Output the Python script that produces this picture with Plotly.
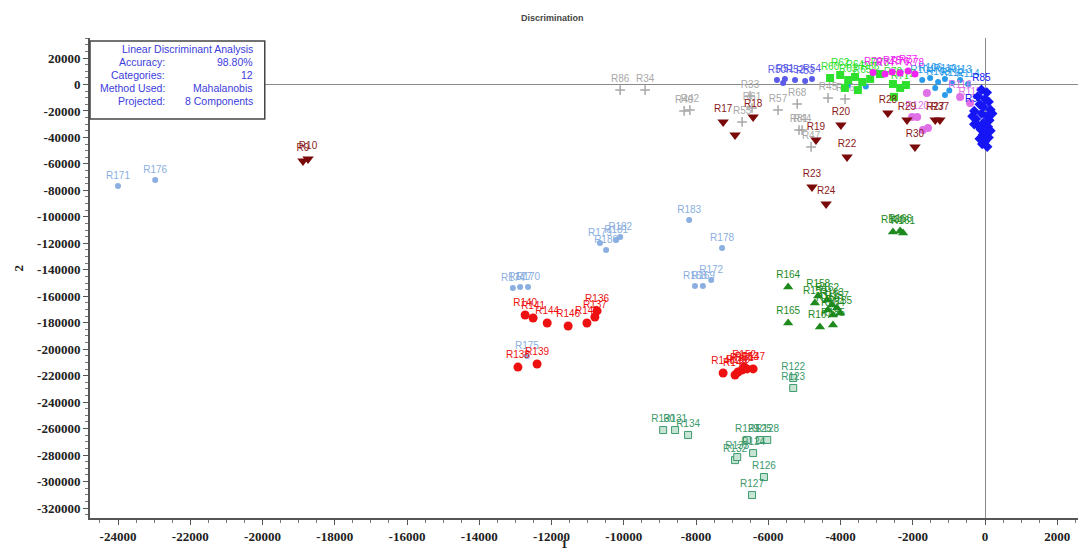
import plotly.graph_objects as go

# ---------------- data ----------------
gray_x = [-10100, -9410, -8330, -8170, -6505, -6450, -6725, -5730, -5200, -5150, -5065, -4816, -4346, -3875]
gray_y = [-4200, -4200, -20000, -19300, -8700, -17800, -28300, -19300, -14700, -34400, -34400, -47200, -10200, -11000]
gray_lab = ["R86", "R34", "R40", "R42", "R33", "R61", "R55", "R57", "R68", "R81", "R44", "R47", "R45", "R46"]

maroon_x = [-18880, -18740, -7250, -6920, -6420, -4680, -3990, -3820, -4790, -4400, -2690, -2160, -1380, -1250, -1940]
maroon_y = [-57800, -56300, -28300, -38200, -24600, -41900, -30600, -54800, -77400, -90300, -21500, -26800, -26800, -26800, -47200]
maroon_lab = ["R9", "R10", "R17", "", "R18", "R19", "R20", "R22", "R23", "R24", "R28", "R29", "R27", "R37", "R30"]

lblue_x = [-24000, -22970, -8190, -7280, -10660, -10490, -10210, -10100, -13070, -12870, -12650, -8030, -7810, -7580, -12680]
lblue_y = [-76700, -72200, -102400, -123500, -119800, -125100, -117500, -115200, -153800, -153000, -153000, -152300, -152300, -147700, -205100]
lblue_lab = ["R171", "R176", "R183", "R178", "R179", "R180", "R181", "R182", "R174", "R177", "R170", "R168", "R169", "R172", "R175"]

red_x = [-12730, -12510, -12120, -11540, -11020, -10800, -10740, -12930, -12400, -7250, -6920, -6840, -6730, -6590, -6420, -6670]
red_y = [-174200, -176400, -180200, -182500, -180200, -175700, -171100, -213500, -211200, -218000, -219500, -217200, -215700, -214900, -214900, -213400]
red_lab = ["R140", "R141", "R144", "R146", "R145", "R137", "R136", "R138", "R139", "R148", "R149", "R150", "R151", "R153", "R147", "R152"]

green_x = [-2550, -2350, -2270, -5450, -5450, -4620, -4710, -4370, -4240, -4100, -4350, -4210, -4010, -4570, -4210]
green_y = [-111500, -110700, -112200, -153000, -180200, -159800, -165100, -162800, -166600, -168900, -170400, -174200, -172600, -183200, -181700]
green_lab = ["R160", "R166", "R161", "R164", "R165", "R158", "R159", "R162", "R163", "R157", "R156", "R154", "R155", "R167", "R185"]

teal_x = [-5310, -5310, -8910, -8580, -8220, -6230, -6030, -6590, -6420, -6920, -6860, -6120, -6450]
teal_y = [-221800, -229300, -261100, -261100, -264800, -268600, -268600, -268600, -278500, -283800, -281500, -296600, -310200]
teal_lab = ["R122", "R123", "R130", "R131", "R134", "R125", "R128", "R129", "R124", "R132", "R133", "R126", "R127"]

blue_x = [-100, 50, -200, 0, 100, -150, -50, 150, -300, -100, 50, -250, 120, -50, -200, 80, -120, 30, -60, 100, -150, 0, -80, 60, -350, 200, -300, 150]
blue_y = [-4000, -6000, -9000, -11000, -13000, -15000, -17000, -19000, -20000, -22000, -24000, -26000, -27000, -29000, -31000, -32000, -34000, -36000, -38000, -40000, -41000, -43000, -45000, -47000, -24000, -22000, -30000, -35000]
blue_lab = ["R85", "", "", "", "", "", "", "", "R93", "", "", "", "", "", "", "", "", "", "", "", "", "", "", "", "", "", "", ""]

violet_x = [-5760, -5540, -5260, -4980, -4790, -5590]
violet_y = [3400, 4200, 3400, 2600, 4200, 1100]
violet_lab = ["R50", "R51", "R52", "R53", "R54", ""]

lime_x = [-4290, -4010, -3790, -3600, -3400, -3180, -3880, -3520, -2550, -2350, -2190, -2520, -2910]
lime_y = [4900, 7200, 3400, 5700, 1900, 4200, -2600, -4200, 400, -2600, -400, -9400, 7900]
lime_lab = ["R60", "R62", "R63", "R64", "R65", "R66", "", "", "R70", "R71", "R72", "", "R73"]

magenta_x = [-2770, -2570, -2350, -2130, -1940, -3100]
magenta_y = [7900, 9400, 8700, 10200, 7900, 9000]
magenta_lab = ["R74", "R75", "R76", "R77", "R78", "R79"]

dblue_x = [-1740, -1520, -1300, -1110, -910, -690, -470, -1380, -1110, -990, -3800, -3300]
dblue_y = [3400, 4900, 1900, 4200, 1100, 3400, 400, -2600, -8000, -4500, -500, -1500]
dblue_lab = ["R104", "R106", "R108", "R110", "R112", "R113", "R114", "", "", "", "", ""]

orchid_x = [-1610, -690, -1880, -1720, -2020, -1580, -415]
orchid_y = [-6400, -9400, -24600, -34400, -24600, -32900, -14000]
orchid_lab = ["", "R116", "R120", "", "", "", "R115"]

xtick_vals = [-24000, -22000, -20000, -18000, -16000, -14000, -12000, -10000, -8000, -6000, -4000, -2000, 0, 2000]
xtick_text = ["-24000", "-22000", "-20000", "-18000", "-16000", "-14000", "-12000", "-10000", "-8000", "-6000", "-4000", "-2000", "0", "2000"]
ytick_vals = [20000, 0, -20000, -40000, -60000, -80000, -100000, -120000, -140000, -160000, -180000, -200000,
              -220000, -240000, -260000, -280000, -300000, -320000]
ytick_text = ["20000", "0", "-20000", "-40000", "-60000", "-80000", "-100000", "-120000", "-140000", "-160000",
              "-180000", "-200000", "-220000", "-240000", "-260000", "-280000", "-300000", "-320000"]

info_keys = ["Accuracy:", "Categories:", "Method Used:", "Projected:"]
info_vals = ["98.80%", "12", "Mahalanobis", "8 Components"]

# ---------------- figure ----------------
fig = go.Figure()

def add_group(xs, ys, labels, color, symbol, size, tcolor=None, line=None, fill=None):
    fig.add_trace(go.Scatter(
        x=xs, y=ys, text=labels, mode="markers+text", textposition="top center",
        textfont=dict(family="Liberation Sans", size=10, color=tcolor or color),
        marker=dict(symbol=symbol, size=size, color=fill or color,
                    line=line if line else dict(width=0)),
        showlegend=False, hoverinfo="x+y+text"))

add_group(gray_x, gray_y, gray_lab, "#A8A8A8", "cross-thin", 7,
          line=dict(color="#A8A8A8", width=1.5))
add_group(dblue_x, dblue_y, dblue_lab, "#2A9BEA", "circle", 6)
add_group(violet_x, violet_y, violet_lab, "#5B5BE8", "circle", 6)
add_group(lime_x, lime_y, lime_lab, "#2EE02E", "square", 8)
add_group(magenta_x, magenta_y, magenta_lab, "#F224F2", "circle", 7)
add_group(orchid_x, orchid_y, orchid_lab, "#E070E8", "circle", 8)
add_group(blue_x, blue_y, blue_lab, "#1515F5", "diamond", 8)
add_group(maroon_x, maroon_y, maroon_lab, "#7A0A0A", "triangle-down", 10, tcolor="#8B1A1A")
add_group(lblue_x, lblue_y, lblue_lab, "#8AAFE0", "circle", 6)
add_group(red_x, red_y, red_lab, "#EE1111", "circle", 9)
add_group(green_x, green_y, green_lab, "#1E8A1E", "triangle-up", 9)
add_group(teal_x, teal_y, teal_lab, "#3C9A6C", "square", 7,
          line=dict(color="#3C9A6C", width=1), fill="#C8E4D4")

tickfont = dict(family="Liberation Serif", size=13, color="#222222", weight="bold")

# the page body adds an 8px margin, so the figure is offset by 8px
fig.update_layout(
    width=1078, height=546,
    margin=dict(l=82, r=3, t=30, b=36),
    paper_bgcolor="white", plot_bgcolor="white",
    xaxis=dict(range=[-24775, 2711], tickvals=xtick_vals, ticktext=xtick_text,
               showgrid=False, zeroline=True, zerolinecolor="#8A8A8A", zerolinewidth=1,
               showline=True, linecolor="#555555", linewidth=2, ticks="outside",
               ticklen=5, tickcolor="#555555", tickfont=tickfont,
               minor=dict(ticks="outside", ticklen=3, dtick=500, tickcolor="#777777")),
    yaxis=dict(range=[-327550, 35135], tickvals=ytick_vals, ticktext=ytick_text,
               showgrid=False, zeroline=True, zerolinecolor="#8A8A8A", zerolinewidth=1,
               showline=True, linecolor="#555555", linewidth=2, ticks="outside",
               ticklen=5, tickcolor="#555555", tickfont=tickfont,
               minor=dict(ticks="outside", ticklen=3, dtick=5000, tickcolor="#777777")),
)

# info box
fig.add_shape(type="rect", xref="paper", yref="paper", x0=0.0, x1=0.176, y0=0.831, y1=0.994,
              fillcolor="white", line=dict(color="#444444", width=1.5), layer="above")
box_font = dict(family="Liberation Sans", size=10.5, color="#3C3CDC")
fig.add_annotation(xref="paper", yref="paper", x=0.166, y=0.977, xanchor="right", yanchor="middle",
                   text="Linear Discriminant Analysis", showarrow=False, font=box_font)
row_y = [0.950, 0.923, 0.896, 0.869]
for k, v, yy in zip(info_keys, info_vals, row_y):
    fig.add_annotation(xref="paper", yref="paper", x=0.0775, y=yy, xanchor="right", yanchor="middle",
                       text=k, showarrow=False, font=box_font)
    fig.add_annotation(xref="paper", yref="paper", x=0.166, y=yy, xanchor="right", yanchor="middle",
                       text=v, showarrow=False, font=box_font)

# title and axis labels
fig.add_annotation(xref="paper", yref="paper", x=0.466, y=1.042, xanchor="center", yanchor="middle",
                   text="Discrimination", showarrow=False,
                   font=dict(family="Liberation Sans", size=9, color="#444444", weight="bold"))
fig.add_annotation(xref="paper", yref="paper", x=0.478, y=-0.054, xanchor="center", yanchor="middle",
                   text="1", showarrow=False,
                   font=dict(family="Liberation Serif", size=13, color="#222222", weight="bold"))
fig.add_annotation(xref="paper", yref="paper", x=-0.0725, y=0.52, xanchor="center", yanchor="middle",
                   text="2", showarrow=False, textangle=-90,
                   font=dict(family="Liberation Serif", size=13, color="#222222", weight="bold"))

fig.write_html("out.html")
